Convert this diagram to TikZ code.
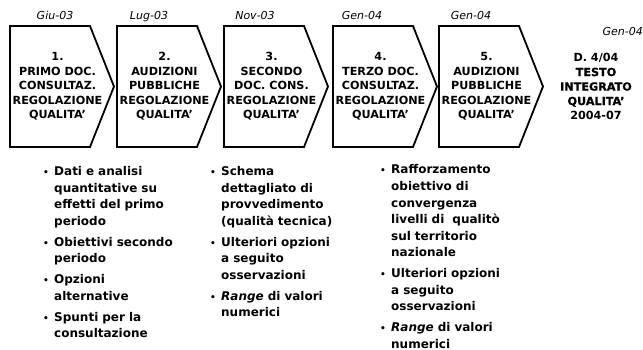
\documentclass[tikz,border=0pt]{standalone}
\usepackage{fontspec}
\setmainfont{DejaVu Sans}
\newfontfamily\heavyfont{DejaVu Sans}[BoldFeatures={FakeBold=1.2}]
\newcommand{\bitem}[1]{\par\noindent\hangindent=11pt\hangafter=1\makebox[11pt][l]{\fontsize{9}{9}\selectfont•}#1\par\vspace{4.2pt}}
\tikzset{
  chev/.style={draw=black, line width=1.8pt, fill=white, line join=miter},
  title/.style={align=center, font=\bfseries\fontsize{11.2}{14.5}\selectfont, inner sep=0},
  datelbl/.style={anchor=base, font=\itshape\fontsize{11}{12}\selectfont, inner sep=0},
  blist/.style={anchor=base west, text width=170pt, inner sep=0, font=\bfseries\fontsize{12}{16.6}\selectfont},
}
\begin{document}
\begin{tikzpicture}[x=1pt,y=-1pt]
\useasboundingbox (0,0) rectangle (643,350);
% chevrons
\foreach \L in {10,117,224,333,439}{
  \draw[chev] (\L,26) -- (\L+80,26) -- (\L+104,86.5) -- (\L+80,147) -- (\L,147) -- cycle;
}
% dates
\node[datelbl] (d1) at (55,20) {Giu-03};
\node[datelbl] (d2) at (149,20) {Lug-03};
\node[datelbl] (d3) at (255,20) {Nov-03};
\node[datelbl] (d4) at (362,20) {Gen-04};
\node[datelbl] (d5) at (471,20) {Gen-04};
\node[datelbl, anchor=base east] (d6) at (643,36) {Gen-04};
% titles
\node[title] (t1) at (57.5,86.5) {1.\\PRIMO DOC.\\CONSULTAZ.\\REGOLAZIONE\\QUALITA’};
\node[title] (t2) at (164.5,86.5) {2.\\AUDIZIONI\\PUBBLICHE\\REGOLAZIONE\\QUALITA’};
\node[title] (t3) at (271.5,86.5) {3.\\SECONDO\\DOC. CONS.\\REGOLAZIONE\\QUALITA’};
\node[title] (t4) at (380.5,86.5) {4.\\TERZO DOC.\\CONSULTAZ.\\REGOLAZIONE\\QUALITA’};
\node[title] (t5) at (486.5,86.5) {5.\\AUDIZIONI\\PUBBLICHE\\REGOLAZIONE\\QUALITA’};
\node[title] (t6) at (596,86.5) {D. 4/04\\{\heavyfont\bfseries TESTO}\\{\heavyfont\bfseries INTEGRATO}\\{\heavyfont\bfseries QUALITA’}\\2004-07};
% bullet lists
\node[blist] (l1) at (43,159.2) {%
\bitem{Dati e analisi\newline quantitative su\newline effetti del primo\newline periodo}%
\bitem{Obiettivi secondo\newline periodo}%
\bitem{Opzioni\newline alternative}%
\bitem{Spunti per la\newline consultazione}};
\node[blist] (l2) at (210,159.2) {%
\bitem{Schema\newline dettagliato di\newline provvedimento\newline (qualità tecnica)}%
\bitem{Ulteriori opzioni\newline a seguito\newline osservazioni}%
\bitem{\textit{Range} di valori\newline numerici}};
\node[blist] (l3) at (380,157.4) {%
\bitem{Rafforzamento\newline obiettivo di\newline convergenza\newline livelli di\ \ qualitò\newline sul territorio\newline nazionale}%
\bitem{Ulteriori opzioni\newline a seguito\newline osservazioni}%
\bitem{\textit{Range} di valori\newline numerici}};
\end{tikzpicture}
\end{document}
